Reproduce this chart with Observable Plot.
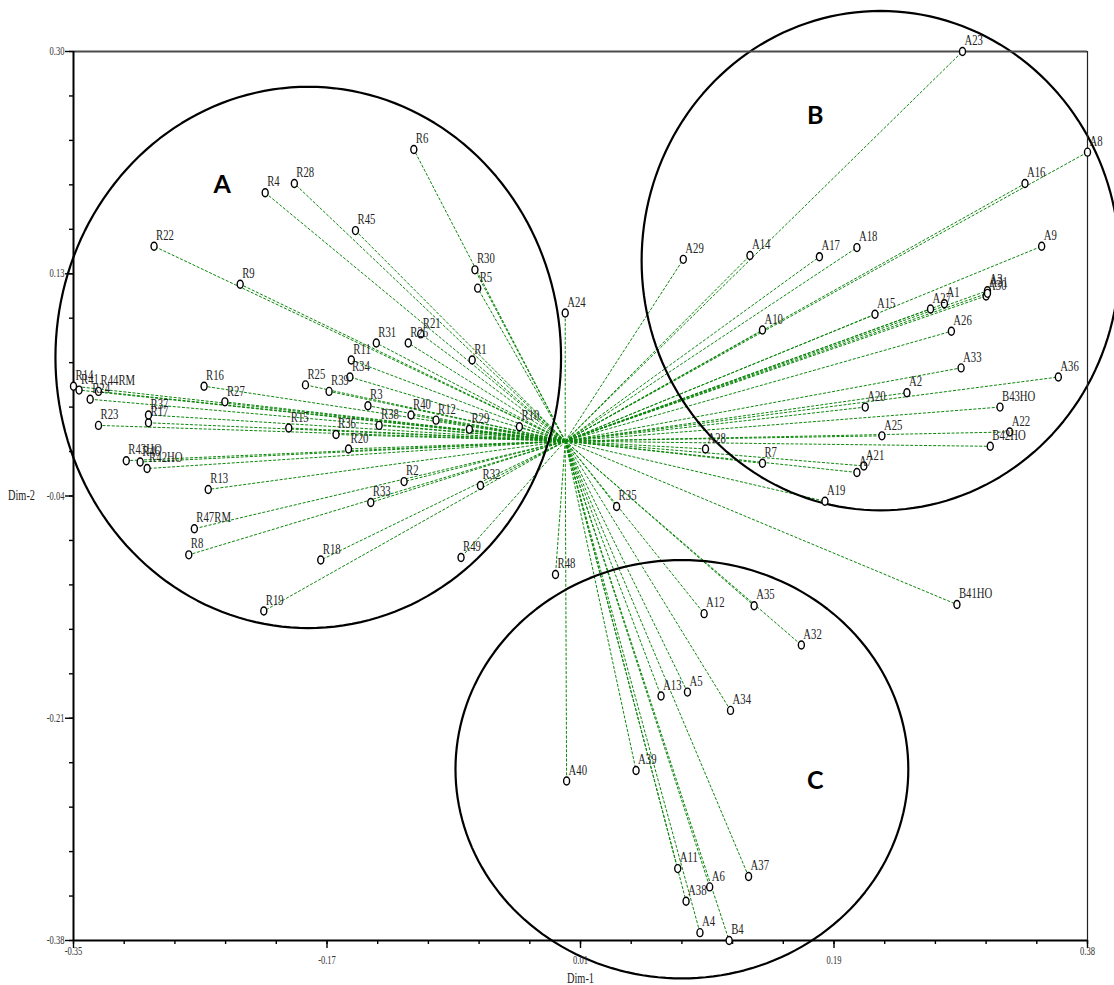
<!DOCTYPE html>
<html>
<head>
<meta charset="utf-8">
<script src="https://cdn.jsdelivr.net/npm/d3@7"></script>
<script src="https://cdn.jsdelivr.net/npm/@observablehq/plot@0.6"></script>
<style>
  body { margin: 0; background: #fff; }
  #chart svg { overflow: visible; display: block; }
</style>
</head>
<body>
<div id="chart"></div>
<script>
// Point names and their coordinates on the first two dimensions
const pointLabels = [
  "R1","R2","R3","R4","R5","R6","R7","R8","R9","R10",
  "R11","R12","R13","R14","R15","R16","R17","R18","R19","R20",
  "R21","R22","R23","R24","R25","R26","R27","R28","R29","R30",
  "R31","R32","R33","R34","R35","R36","R37","R38","R39","R40",
  "R41","R42HO","R43HO","R44RM","R45","R46","R47RM","R48","R49",
  "A1","A2","A3","A4","A5","A6","A7","A8","A9","A10",
  "A11","A12","A13","A14","A15","A16","A17","A18","A19","A20",
  "A21","A22","A23","A24","A25","A26","A27","A28","A29","A30",
  "A31","A32","A33","A34","A35","A36","A37","A38","A39","A40",
  "B4","B41HO","B42HO","B43HO"
];
const dim1 = [
  -0.063,-0.112,-0.138,-0.212,-0.059,-0.105,0.146,-0.267,-0.230,-0.029,
  -0.150,-0.089,-0.253,-0.350,-0.195,-0.256,-0.296,-0.172,-0.213,-0.152,
  -0.100,-0.292,-0.332,-0.338,-0.183,-0.109,-0.241,-0.191,-0.065,-0.061,
  -0.132,-0.057,-0.136,-0.151,0.041,-0.161,-0.296,-0.130,-0.166,-0.107,
  -0.346,-0.297,-0.312,-0.332,-0.147,-0.302,-0.263,-0.003,-0.071,
  0.277,0.250,0.308,0.101,0.092,0.108,0.214,0.380,0.347,0.146,
  0.085,0.104,0.073,0.137,0.227,0.335,0.187,0.214,0.191,0.220,
  0.219,0.324,0.290,0.004,0.232,0.282,0.267,0.105,0.089,0.307,
  0.308,0.174,0.289,0.123,0.140,0.359,0.136,0.091,0.055,0.005,
  0.122,0.286,0.310,0.317
];
const dim2 = [
  0.064,-0.029,0.029,0.192,0.119,0.225,-0.015,-0.085,0.122,0.013,
  0.064,0.018,-0.035,0.044,0.012,0.044,0.016,-0.089,-0.128,-0.004,
  0.084,0.151,0.014,0.034,0.045,0.077,0.032,0.199,0.011,0.133,
  0.077,-0.032,-0.045,0.051,-0.048,0.007,0.022,0.014,0.040,0.022,
  0.041,-0.019,-0.013,0.040,0.163,-0.014,-0.065,-0.100,-0.087,
  0.107,0.039,0.117,-0.374,-0.190,-0.339,-0.022,0.223,0.151,0.087,
  -0.325,-0.130,-0.193,0.144,0.099,0.199,0.143,0.150,-0.044,0.028,
  -0.017,0.009,0.300,0.100,0.006,0.086,0.103,-0.004,0.141,0.113,
  0.115,-0.154,0.058,-0.204,-0.124,0.051,-0.331,-0.350,-0.250,-0.258,
  -0.380,-0.123,-0.002,0.028
];

// Common point every ray starts from
const rayOrigin = {x: 0.004, y: 0.002};

// Groups outlined by ellipses
const groupNames = ["A", "B", "C"];
const groupCx = [-0.181, 0.231, 0.088];
const groupCy = [0.066, 0.140, -0.249];
const groupRx = [0.182, 0.172, 0.163];
const groupRy = [0.207, 0.191, 0.160];
const groupTextX = [-0.243, 0.184, 0.184];
const groupTextY = [0.198, 0.251, -0.258];

// Axis domains and tick labels
const xDomain = [-0.35, 0.38];
const yDomain = [-0.38, 0.30];
const xTickLabels = ["-0.35", "-0.17", "0.01", "0.19", "0.38"];
const yTickLabels = ["-0.38", "-0.21", "-0.04", "0.13", "0.30"];

const points = pointLabels.map((name, i) => ({name, x: dim1[i], y: dim2[i]}));

const xTicks = d3.range(5).map(i => xDomain[0] + i * (xDomain[1] - xDomain[0]) / 4);
const yTicks = d3.range(5).map(i => yDomain[0] + i * (yDomain[1] - yDomain[0]) / 4);
const xMinor = d3.range(21).map(i => xDomain[0] + i * (xDomain[1] - xDomain[0]) / 20);
const yMinor = d3.range(21).map(i => yDomain[0] + i * (yDomain[1] - yDomain[0]) / 20);
const xTickText = xTicks.map((v, i) => ({v, t: xTickLabels[i], end: i === 0 || i === 4}));
const yTickText = yTicks.map((v, i) => ({v, t: yTickLabels[i]}));

const ellipsePath = groupNames.flatMap((g, k) =>
  d3.range(0, 361, 2).map(a => ({
    g,
    x: groupCx[k] + groupRx[k] * Math.cos(a * Math.PI / 180),
    y: groupCy[k] + groupRy[k] * Math.sin(a * Math.PI / 180)
  }))
);
const groupText = groupNames.map((g, k) => ({g, x: groupTextX[k], y: groupTextY[k]}));

// Slightly tall open marker
const ovalSymbol = {
  draw(context, size) {
    const ry = Math.sqrt(size / Math.PI), rx = ry * 0.75, k = 0.5523;
    context.moveTo(rx, 0);
    context.bezierCurveTo(rx, k * ry, k * rx, ry, 0, ry);
    context.bezierCurveTo(-k * rx, ry, -rx, k * ry, -rx, 0);
    context.bezierCurveTo(-rx, -k * ry, -k * rx, -ry, 0, -ry);
    context.bezierCurveTo(k * rx, -ry, rx, -k * ry, rx, 0);
    context.closePath();
  }
};

const serif = "'Liberation Serif', 'Times New Roman', serif";

const chart = Plot.plot({
  width: 1114,
  height: 985,
  marginLeft: 73,
  marginRight: 27,
  marginTop: 51,
  marginBottom: 45,
  x: {domain: xDomain, axis: null},
  y: {domain: yDomain, axis: null},
  style: {background: "#fff", overflow: "visible"},
  marks: [
    // rays
    Plot.link(points, {
      x1: () => rayOrigin.x, y1: () => rayOrigin.y, x2: "x", y2: "y",
      stroke: "#0a870a", strokeWidth: 1, strokeDasharray: "3,1.6"
    }),
    // group outlines
    Plot.line(ellipsePath, {x: "x", y: "y", z: "g", stroke: "#000", strokeWidth: 2.2}),
    Plot.text(groupText, {
      x: "x", y: "y", text: "g", fontSize: 25, fontWeight: "bold",
      fontFamily: "Lato, 'Open Sans', sans-serif", fill: "#000"
    }),
    // frame
    Plot.ruleY([yDomain[1]], {x1: xDomain[0], x2: xDomain[1], stroke: "#4a4a4a", strokeWidth: 2}),
    Plot.ruleX([xDomain[1]], {y1: yDomain[0], y2: yDomain[1], stroke: "#222", strokeWidth: 1.2}),
    Plot.ruleY([yDomain[0]], {x1: xDomain[0], x2: xDomain[1], stroke: "#000", strokeWidth: 2}),
    Plot.ruleX([xDomain[0]], {y1: yDomain[0], y2: yDomain[1], stroke: "#000", strokeWidth: 2}),
    // ticks
    Plot.axisX(xMinor, {anchor: "bottom", tickSize: 4, strokeWidth: 1.4, fill: "none", label: null}),
    Plot.axisX(xTicks, {anchor: "bottom", tickSize: 8, strokeWidth: 1.4, fill: "none", label: null}),
    Plot.axisY(yMinor, {anchor: "left", tickSize: 4, strokeWidth: 1.4, fill: "none", label: null}),
    Plot.axisY(yTicks, {anchor: "left", tickSize: 8, strokeWidth: 1.4, fill: "none", label: null}),
    // tick labels
    Plot.text(yTickText, {
      x: () => xDomain[0], y: "v", text: "t", dx: -9, textAnchor: "end",
      fontSize: 11.5, fontFamily: serif, fill: "#333"
    }),
    Plot.text(xTickText.filter(d => d.end), {
      x: "v", y: () => yDomain[0], text: "t", dy: 11,
      fontSize: 11.5, fontFamily: serif, fill: "#333"
    }),
    Plot.text(xTickText.filter(d => !d.end), {
      x: "v", y: () => yDomain[0], text: "t", dy: 20,
      fontSize: 11.5, fontFamily: serif, fill: "#333"
    }),
    // axis titles
    Plot.text(["Dim-1"], {
      x: () => xTicks[2], y: () => yDomain[0], text: d => d, dy: 38,
      fontSize: 14, fontFamily: serif, fill: "#222"
    }),
    Plot.text(["Dim-2"], {
      x: () => xDomain[0], y: () => yTicks[2], text: d => d, dx: -52,
      fontSize: 14, fontFamily: serif, fill: "#222"
    }),
    // points and names
    Plot.dot(points, {
      x: "x", y: "y", r: 4, symbol: ovalSymbol,
      stroke: "#000", strokeWidth: 1.4, fill: "#fff"
    }),
    Plot.text(points, {
      x: "x", y: "y", text: "name", dx: 2, dy: -11, textAnchor: "start",
      fontSize: 14.5, fontFamily: serif, fill: "#222"
    })
  ]
});

// narrow the serif lettering (every text mark except the bold group letters)
chart.querySelectorAll('g[aria-label="text"]').forEach(g => {
  if (g.getAttribute("font-weight") === "bold") return;
  g.querySelectorAll("text").forEach(t => {
    const tr = t.getAttribute("transform");
    if (tr) {
      t.setAttribute("transform", tr + " scale(0.74,1)");
    } else {
      const x = +t.getAttribute("x") || 0, y = +t.getAttribute("y") || 0;
      t.removeAttribute("x"); t.removeAttribute("y");
      t.setAttribute("transform", `translate(${x},${y}) scale(0.74,1)`);
    }
  });
});

document.getElementById("chart").appendChild(chart);
</script>
</body>
</html>
